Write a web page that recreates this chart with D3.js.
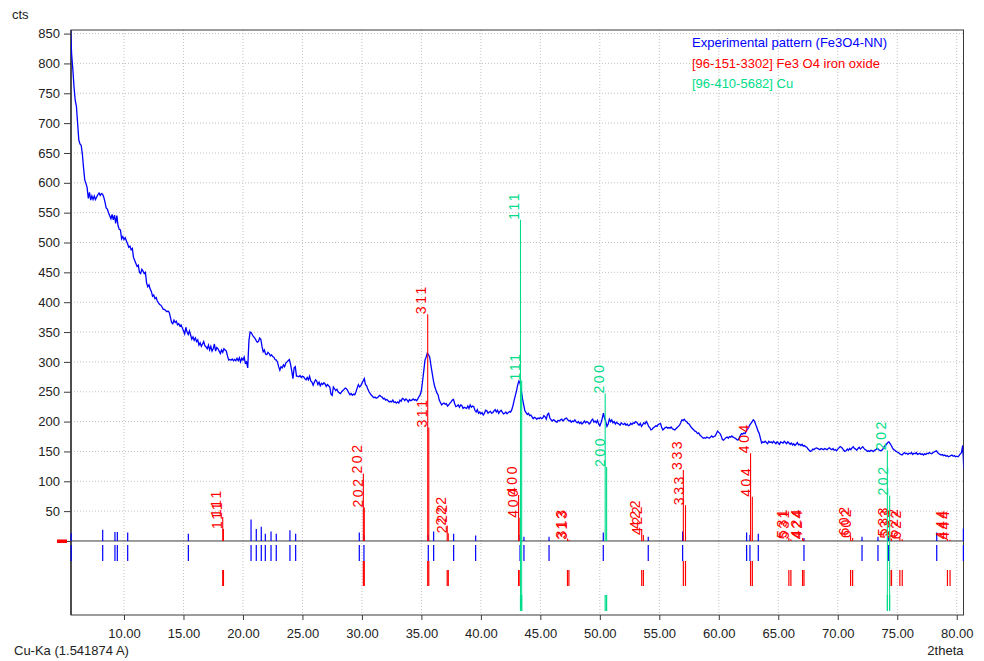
<!DOCTYPE html>
<html>
<head>
<meta charset="utf-8">
<script src="https://cdn.jsdelivr.net/npm/d3@7/dist/d3.min.js"></script>
<style>
  body { margin: 0; background: #fff; }
</style>
</head>
<body>
<div id="chart"></div>
<script>
// Experimental scan (Fe3O4-NN), counts every 0.1 deg 2theta from 5.5
var scanStart = 5.5;
var scanStep = 0.1;
var scanCounts = [
  860, 815, 790, 760, 738,
  728, 700, 672, 665, 663, 648, 625, 605, 599, 592,
  574, 584, 571, 578, 572, 578, 572, 576, 580, 583,
  579, 582, 581, 576, 568, 558, 556, 550, 545, 540,
  547, 538, 546, 532, 545, 528, 522, 521, 506, 510,
  505, 508, 503, 498, 492, 494, 488, 490, 475, 470,
  465, 460, 462, 450, 448, 455, 452, 448, 450, 432,
  426, 429, 422, 418, 410, 412, 406, 408, 402, 399,
  396, 395, 392, 388, 388, 386, 384, 385, 383, 375,
  366, 364, 370, 366, 368, 362, 364, 360, 362, 357,
  352, 347, 358, 350, 346, 352, 345, 338, 342, 336,
  340, 334, 337, 328, 332, 326, 330, 334, 327, 325,
  322, 328, 320, 326, 318, 322, 330, 318, 324, 322,
  318, 314, 320, 316, 322, 320, 318, 310, 303, 304,
  303, 305, 302, 304, 302, 306, 302, 307, 300, 306,
  303, 308, 298, 300, 290, 335, 350, 349, 345, 342,
  340, 336, 333, 334, 340, 338, 326, 317, 320, 313,
  312, 316, 314, 310, 312, 309, 308, 304, 303, 300,
  292, 286, 292, 290, 295, 292, 298, 300, 302, 304,
  296, 285, 272, 290, 292, 276, 276, 275, 277, 274,
  276, 275, 272, 270, 274, 270, 276, 268, 266, 261,
  266, 270, 268, 262, 266, 260, 264, 262, 265, 263,
  259, 262, 260, 258, 246, 244, 258, 255, 252, 254,
  250, 248, 247, 250, 252, 254, 256, 255, 252, 248,
  245, 247, 244, 246, 245, 250, 256, 262, 258, 260,
  264, 268, 272, 262, 260, 254, 250, 247, 244, 242,
  240, 241, 239, 240, 242, 244, 242, 241, 238, 239,
  236, 237, 235, 233, 234, 233, 236, 232, 233, 231,
  233, 231, 236, 234, 239, 238, 235, 238, 236, 233,
  237, 235, 236, 238, 236, 237, 235, 238, 242, 245,
  252, 268, 285, 303, 308, 315, 312, 308, 294, 282,
  270, 260, 254, 248, 245, 236, 232, 228, 230, 231,
  229, 230, 226, 228, 231, 233, 236, 237, 230, 225,
  226, 228, 224, 228, 227, 222, 224, 223, 222, 226,
  222, 228, 224, 226, 225, 219, 216, 220, 214, 216,
  213, 215, 211, 214, 219, 218, 214, 216, 217, 214,
  215, 218, 220, 216, 219, 214, 217, 219, 216, 213,
  214, 216, 213, 215, 217, 216, 220, 227, 236, 244,
  252, 262, 268, 264, 252, 238, 228, 218, 215, 212,
  214, 210, 211, 208, 205, 207, 206, 204, 206, 205,
  207, 205, 206, 210, 208, 204, 212, 214, 206, 203,
  201, 203, 202, 200, 199, 202, 201, 203, 204, 201,
  203, 205, 206, 203, 201, 202, 199, 201, 200, 203,
  200, 198, 200, 197, 199, 196, 198, 201, 198, 200,
  199, 196, 198, 202, 204, 199, 201, 198, 202, 196,
  193, 198, 205, 214, 206, 200, 192, 196, 204, 200,
  203, 198, 200, 196, 199, 197, 196, 194, 198, 196,
  195, 197, 194, 196, 193, 194, 197, 195, 198, 197,
  200, 199, 196, 194, 197, 192, 195, 198, 196, 200,
  197, 192, 190, 186, 187, 190, 191, 193, 192, 195,
  196, 197, 190, 186, 188, 190, 191, 189, 190, 189,
  191, 188, 187, 186, 188, 190, 192, 194, 198, 203,
  202, 204, 201, 200, 197, 196, 193, 190, 188, 186,
  184, 183, 180, 181, 178, 176, 174, 172, 173, 172,
  174, 173, 172, 174, 176, 174, 175, 176, 180, 184,
  182, 180, 176, 170, 169, 171, 173, 174, 172, 175,
  174, 176, 174, 173, 172, 170, 169, 172, 176, 180,
  179, 181, 180, 184, 187, 190, 194, 197, 200, 203,
  201, 195, 190, 184, 180, 172, 164, 166, 165, 167,
  165, 163, 167, 165, 166, 164, 167, 165, 163, 166,
  164, 162, 166, 165, 164, 167, 165, 163, 166, 164,
  162, 164, 161, 163, 160, 162, 165, 161, 162, 160,
  162, 159, 160, 158, 157, 154, 152, 150, 151, 154,
  153, 155, 156, 155, 154, 153, 155, 154, 153, 155,
  154, 153, 155, 156, 154, 153, 155, 152, 153, 151,
  154, 156, 158, 157, 155, 152, 150, 151, 154, 152,
  155, 153, 156, 158, 155, 154, 152, 155, 157, 154,
  156, 158, 155, 153, 152, 150, 151, 150, 152, 151,
  150, 152, 153, 155, 154, 152, 151, 152, 154, 158,
  160, 162, 165, 166, 163, 160, 156, 153, 152, 150,
  149, 148, 146, 145, 144, 146, 148, 146, 147, 145,
  147, 146, 148, 145, 147, 146, 148, 145, 146, 147,
  145, 146, 144, 146, 145, 147, 146, 148, 147, 146,
  148, 149, 150, 151, 148, 146, 145, 144, 145, 143,
  144, 142, 143, 141, 142, 143, 144, 142, 143, 141,
  142, 141, 143, 146, 148, 160, 120
];

// peak list of the experimental pattern (blue sticks)
var peakPos = [5.56, 8.21, 9.24, 9.44, 10.31, 15.41, 20.68, 21.12, 21.54, 21.88, 22.36, 22.80, 23.95, 24.43,
  29.78, 30.17, 35.58, 36.03, 37.71, 39.56, 43.29, 43.62, 45.73, 50.29, 54.07, 56.96, 62.34, 62.62, 63.32,
  67.16, 72.04, 73.38, 74.25, 78.32, 80.56];
var peakHeight = [13, 19, 15, 15, 14, 12, 36, 20, 24, 12, 16, 12, 18, 12,
  14, 10, 10, 16, 12, 9, 10, 7, 7, 14, 7, 16, 14, 10, 12,
  5, 7, 7, 8, 14, 21];

// [96-151-3302] Fe3 O4 iron oxide (red), K-alpha1 and K-alpha2 lines
var feHkl = ['111', '202', '311', '222', '400', '313', '422', '333', '404', '531', '424', '602', '533', '622', '444'];
var feK1Pos = [18.30, 30.12, 35.53, 37.17, 43.17, 47.28, 53.52, 57.02, 62.67, 65.89, 67.04, 71.08, 74.38, 75.22, 79.22];
var feK2Pos = [18.36, 30.20, 35.62, 37.26, 43.28, 47.40, 53.66, 57.20, 62.82, 66.06, 67.16, 71.25, 74.52, 75.42, 79.44];
var feK1Height = [40, 113, 380, 26, 77, 4, 20, 119, 147, 5, 5, 9, 8, 6, 3];
var feK2Height = [20, 56, 190, 13, 39, 2, 10, 60, 74, 3, 3, 5, 4, 3, 2];

// [96-410-5682] Cu (green)
var cuHkl = ['111', '200', '202'];
var cuK1Pos = [43.33, 50.45, 74.17];
var cuK2Pos = [43.43, 50.57, 74.36];
var cuK1Height = [538, 247, 152];
var cuK2Height = [269, 124, 76];
var cuSelected = [true, false, true];

var xTickValues = [10, 15, 20, 25, 30, 35, 40, 45, 50, 55, 60, 65, 70, 75, 80];
var yTickValues = [0, 50, 100, 150, 200, 250, 300, 350, 400, 450, 500, 550, 600, 650, 700, 750, 800, 850];
var legendLabels = ['Experimental pattern (Fe3O4-NN)', '[96-151-3302] Fe3 O4 iron oxide', '[96-410-5682] Cu'];

function XrdChart() {

  var attrs = {
    svgWidth: 984,
    svgHeight: 661,
    marginTop: 30,
    marginLeft: 71,
    marginRight: 20.5,
    marginBottom: 46,
    xDomain: [5.545, 80.57],
    yDomain: [-124, 856],
    container: '#chart',
    defaultFont: '"Liberation Sans", Arial, sans-serif',
    fontSize: 13,
    labelSize: 14,
    textFill: '#222',
    axisColor: '#3a3a3a',
    gridColor: '#c2c2c2',
    colors: ['#0000ff', '#ff0000', '#00dc8a'],
    // lower pane rows, px below the zero line
    rows: [[4, 20], [29, 45], [54, 70]]
  };

  var main = function () {
    var calc = {};
    calc.chartWidth = attrs.svgWidth - attrs.marginLeft - attrs.marginRight;
    calc.chartHeight = attrs.svgHeight - attrs.marginTop - attrs.marginBottom;

    var xScale = d3.scaleLinear().domain(attrs.xDomain).range([0, calc.chartWidth]);
    var yScale = d3.scaleLinear().domain(attrs.yDomain).range([calc.chartHeight, 0]);
    calc.zeroY = yScale(0);

    var svg = d3.select(attrs.container).patternify({ tag: 'svg', selector: 'svg-chart' })
      .attr('width', attrs.svgWidth)
      .attr('height', attrs.svgHeight)
      .attr('font-family', attrs.defaultFont)
      .attr('font-size', attrs.fontSize);

    svg.patternify({ tag: 'defs', selector: 'defs' })
      .patternify({ tag: 'clipPath', selector: 'clip-upper' })
      .attr('id', 'clip-upper')
      .patternify({ tag: 'rect', selector: 'clip-rect' })
      .attr('width', calc.chartWidth)
      .attr('height', calc.zeroY);

    var chart = svg.patternify({ tag: 'g', selector: 'chart' })
      .attr('transform', 'translate(' + attrs.marginLeft + ',' + attrs.marginTop + ')');

    // grid
    chart.patternify({ tag: 'line', selector: 'grid-x', data: xTickValues })
      .attr('x1', d => xScale(d)).attr('x2', d => xScale(d))
      .attr('y1', 0).attr('y2', calc.chartHeight)
      .attr('stroke', attrs.gridColor).attr('stroke-dasharray', '1,2');

    chart.patternify({ tag: 'line', selector: 'grid-y', data: yTickValues.filter(d => d > 0) })
      .attr('x1', 0).attr('x2', calc.chartWidth)
      .attr('y1', d => yScale(d)).attr('y2', d => yScale(d))
      .attr('stroke', attrs.gridColor).attr('stroke-dasharray', '1,2');

    // frame and zero line
    chart.patternify({ tag: 'rect', selector: 'frame' })
      .attr('x', 0).attr('y', 0)
      .attr('width', calc.chartWidth).attr('height', calc.chartHeight)
      .attr('fill', 'none').attr('stroke', attrs.axisColor);

    chart.patternify({ tag: 'line', selector: 'zero-line' })
      .attr('x1', 0).attr('x2', calc.chartWidth)
      .attr('y1', calc.zeroY).attr('y2', calc.zeroY)
      .attr('stroke', attrs.axisColor);

    // axes
    var xAxis = d3.axisBottom(xScale)
      .tickValues(xTickValues).tickSize(5).tickPadding(9)
      .tickFormat(d3.format('.2f'));
    var yAxis = d3.axisLeft(yScale)
      .tickValues(yTickValues).tickSize(7).tickPadding(4)
      .tickFormat(d => d === 0 ? '' : d);

    var xAxisLayer = chart.patternify({ tag: 'g', selector: 'x-axis' })
      .attr('transform', 'translate(0,' + calc.chartHeight + ')')
      .call(xAxis);
    var yAxisLayer = chart.patternify({ tag: 'g', selector: 'y-axis' })
      .call(yAxis);

    [xAxisLayer, yAxisLayer].forEach(function (layer) {
      layer.attr('font-family', attrs.defaultFont).attr('font-size', attrs.fontSize);
      layer.select('.domain').remove();
      layer.selectAll('.tick line').attr('stroke', attrs.axisColor);
      layer.selectAll('.tick text').attr('fill', attrs.textFill);
    });

    chart.patternify({ tag: 'line', selector: 'y-axis-line' })
      .attr('x1', 0).attr('x2', 0).attr('y1', 0).attr('y2', calc.chartHeight)
      .attr('stroke', attrs.axisColor).attr('stroke-width', 1.6);

    // red marker at the zero line
    chart.patternify({ tag: 'rect', selector: 'zero-marker' })
      .attr('x', -14).attr('y', calc.zeroY - 1.5)
      .attr('width', 10).attr('height', 3.5)
      .attr('fill', attrs.colors[1]);

    // experimental pattern
    var scan = scanCounts.map((c, i) => ({ t: +(scanStart + i * scanStep).toFixed(2), c: c }));
    var line = d3.line().x(d => xScale(d.t)).y(d => yScale(d.c));

    chart.patternify({ tag: 'path', selector: 'scan' })
      .attr('d', line(scan))
      .attr('clip-path', 'url(#clip-upper)')
      .attr('fill', 'none')
      .attr('stroke', attrs.colors[0])
      .attr('stroke-width', 1.3)
      .attr('stroke-linejoin', 'miter');

    // blue peak list sticks
    var peaks = peakPos.map((p, i) => ({ pos: p, h: peakHeight[i] }));
    chart.patternify({ tag: 'line', selector: 'peak-stick', data: peaks })
      .attr('x1', d => xScale(d.pos)).attr('x2', d => xScale(d.pos))
      .attr('y1', calc.zeroY).attr('y2', d => yScale(d.h))
      .attr('stroke', attrs.colors[0]).attr('stroke-width', 1.2);
    chart.patternify({ tag: 'line', selector: 'peak-row', data: peaks })
      .attr('x1', d => xScale(d.pos)).attr('x2', d => xScale(d.pos))
      .attr('y1', calc.zeroY + attrs.rows[0][0]).attr('y2', calc.zeroY + attrs.rows[0][1])
      .attr('stroke', attrs.colors[0]).attr('stroke-width', 1.2);

    // reference patterns: K-alpha1 and K-alpha2 lines with hkl labels
    function refLines(name, color, rowIndex, hkl, k1Pos, k2Pos, k1H, k2H) {
      var lines = [];
      hkl.forEach(function (label, i) {
        lines.push({ id: name + 'a' + i, pos: k1Pos[i], h: k1H[i], label: label, i: i });
        lines.push({ id: name + 'b' + i, pos: k2Pos[i], h: k2H[i], label: label, i: i });
      });
      var row = attrs.rows[rowIndex];

      chart.patternify({ tag: 'line', selector: name + '-stick', data: lines })
        .attr('x1', d => xScale(d.pos)).attr('x2', d => xScale(d.pos))
        .attr('y1', calc.zeroY).attr('y2', d => yScale(d.h))
        .attr('stroke', color).attr('stroke-width', 1.1);

      chart.patternify({ tag: 'line', selector: name + '-row', data: lines })
        .attr('x1', d => xScale(d.pos)).attr('x2', d => xScale(d.pos))
        .attr('y1', d => calc.zeroY + (rowIndex === 1 && k1H[d.i] > 100 ? attrs.rows[0][1] : row[0]))
        .attr('y2', calc.zeroY + row[1])
        .attr('stroke', color).attr('stroke-width', 1.2);

      chart.patternify({ tag: 'text', selector: name + '-label', data: lines })
        .attr('transform', d => 'translate(' + (xScale(d.pos) - 1.5) + ',' + yScale(d.h) + ') rotate(-90)')
        .attr('text-anchor', 'start')
        .attr('font-size', attrs.labelSize)
        .attr('letter-spacing', 2.6)
        .attr('fill', color)
        .text(d => d.label);
      return lines;
    }

    refLines('fe', attrs.colors[1], 1, feHkl, feK1Pos, feK2Pos, feK1Height, feK2Height);
    var cuLines = refLines('cu', attrs.colors[2], 2, cuHkl, cuK1Pos, cuK2Pos, cuK1Height, cuK2Height);

    // selected Cu lines run through the lower pane
    chart.patternify({ tag: 'line', selector: 'cu-through', data: cuLines.filter(d => cuSelected[d.i]) })
      .attr('x1', d => xScale(d.pos)).attr('x2', d => xScale(d.pos))
      .attr('y1', calc.zeroY).attr('y2', calc.zeroY + attrs.rows[2][1])
      .attr('stroke', attrs.colors[2]).attr('stroke-width', 1);

    // legend
    svg.patternify({ tag: 'text', selector: 'legend', data: legendLabels })
      .attr('x', 692)
      .attr('y', (d, i) => 47 + i * 20.5)
      .attr('fill', (d, i) => attrs.colors[i])
      .text(d => d);

    // axis titles
    svg.patternify({ tag: 'text', selector: 'y-title' })
      .attr('x', 12).attr('y', 19).attr('fill', attrs.textFill).text('cts');
    svg.patternify({ tag: 'text', selector: 'wave-title' })
      .attr('x', 14).attr('y', 655).attr('fill', attrs.textFill).text('Cu-Ka (1.541874 A)');
    svg.patternify({ tag: 'text', selector: 'x-title' })
      .attr('x', attrs.marginLeft + calc.chartWidth).attr('y', 655)
      .attr('text-anchor', 'end').attr('fill', attrs.textFill).text('2theta');
  };

  d3.selection.prototype.patternify = function (params) {
    var container = this;
    var selector = params.selector;
    var data = params.data || [selector];
    var selection = container.selectAll('.' + selector).data(data, (d, i) => (d && d.id) ? d.id : i);
    selection.exit().remove();
    selection = selection.enter().append(params.tag).merge(selection);
    selection.attr('class', selector);
    return selection;
  };

  main.render = function () {
    main();
    return main;
  };

  return main;
}

XrdChart().render();
</script>
</body>
</html>
